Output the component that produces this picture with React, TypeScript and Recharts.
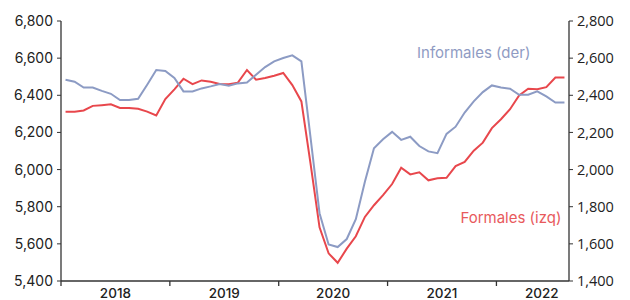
import { LineChart, Line, XAxis, YAxis, ReferenceDot } from 'recharts'

// monthly, Jan 2018 - Aug 2022 (thousands of workers)
const formales = [
  6312, 6312, 6318, 6343, 6347, 6352, 6332, 6332, 6327, 6312, 6291, 6380,
  6432, 6489, 6460, 6480, 6473, 6461, 6460, 6468, 6536, 6484, 6493, 6505,
  6520, 6455, 6367, 6035, 5689, 5549, 5498, 5574, 5641, 5745, 5808, 5862,
  5922, 6010, 5974, 5985, 5942, 5953, 5956, 6019, 6041, 6102, 6145, 6223,
  6271, 6325, 6399, 6435, 6433, 6444, 6496, 6496,
]
const informales = [
  2484, 2473, 2442, 2442, 2424, 2408, 2374, 2374, 2381, 2457, 2536, 2531,
  2493, 2421, 2421, 2437, 2448, 2461, 2451, 2464, 2469, 2511, 2552, 2583,
  2601, 2615, 2583, 2176, 1765, 1597, 1583, 1626, 1733, 1934, 2115, 2163,
  2203, 2160, 2177, 2127, 2098, 2088, 2192, 2231, 2307, 2367, 2417, 2453,
  2442, 2435, 2403, 2403, 2421, 2394, 2361, 2361,
]

const leftTicks = [5400, 5600, 5800, 6000, 6200, 6400, 6600, 6800]
const rightTicks = [1400, 1600, 1800, 2000, 2200, 2400, 2600, 2800]
const yearStarts = [0, 12, 24, 36, 48]
const yearLabelPos = [6, 18, 30, 42, 53]
const yearLabels = ['2018', '2019', '2020', '2021', '2022']

const RED = '#e8474c'
const BLUE = '#8c9bc4'
const AXIS = '#333'

const data = formales.map((f, i) => ({ x: i + 0.5, formales: f, informales: informales[i] }))

const fmt = (v: number) => v.toLocaleString('en-US')

const YearTick = ({ x, y, payload }: any) => {
  if (yearStarts.includes(payload.value)) {
    return <line x1={x} x2={x} y1={y} y2={y + 5} stroke={AXIS} strokeWidth={1.3} />
  }
  const i = yearLabelPos.indexOf(payload.value)
  return (
    <text x={x} y={y + 17} textAnchor="middle" fill="#222" fontSize={13.5}
      fontWeight={500} fontFamily="Inter, sans-serif">
      {yearLabels[i]}
    </text>
  )
}

export default function App() {
  return (
    <div style={{ position: 'absolute', left: 0, top: 0, background: '#fff' }}>
      <LineChart width={630} height={300} data={data} margin={{ top: 21, right: 0, bottom: 0, left: 0 }}>
        <XAxis
          dataKey="x" type="number" domain={[0, 56]}
          ticks={[...yearStarts, ...yearLabelPos].sort((a, b) => a - b)}
          interval={0} tick={<YearTick />} tickLine={false} tickSize={0} tickMargin={0}
          axisLine={{ stroke: AXIS, strokeWidth: 1.3 }} height={19}
        />
        <YAxis
          yAxisId="izq" orientation="left" domain={[5400, 6800]} ticks={leftTicks}
          tickFormatter={fmt} width={61} tickSize={4} tickMargin={4}
          axisLine={{ stroke: AXIS, strokeWidth: 1.3 }} tickLine={{ stroke: AXIS }}
          tick={{ fill: '#222', fontSize: 14, fontFamily: 'Inter, sans-serif' }}
        />
        <YAxis
          yAxisId="der" orientation="right" domain={[1400, 2800]} ticks={rightTicks}
          tickFormatter={fmt} width={61} tickSize={4} tickMargin={4}
          axisLine={{ stroke: AXIS, strokeWidth: 1.3 }} tickLine={{ stroke: AXIS }}
          tick={{ fill: '#222', fontSize: 14.5, fontFamily: '"Open Sans", sans-serif' }}
        />
        <Line yAxisId="izq" dataKey="formales" stroke={RED} strokeWidth={2} dot={false} isAnimationActive={false} />
        <Line yAxisId="der" dataKey="informales" stroke={BLUE} strokeWidth={2} dot={false} isAnimationActive={false} />
        <ReferenceDot
          yAxisId="der" x={45.5} y={2630} r={0} stroke="none"
          label={{ value: 'Informales (der)', position: 'center', fill: '#8f9bc3', fontSize: 15, fontFamily: 'Inter, sans-serif' }}
        />
        <ReferenceDot
          yAxisId="izq" x={49.6} y={5743} r={0} stroke="none"
          label={{ value: 'Formales (izq)', position: 'center', fill: '#e85a5c', fontSize: 15, fontFamily: 'Inter, sans-serif' }}
        />
      </LineChart>
    </div>
  )
}
